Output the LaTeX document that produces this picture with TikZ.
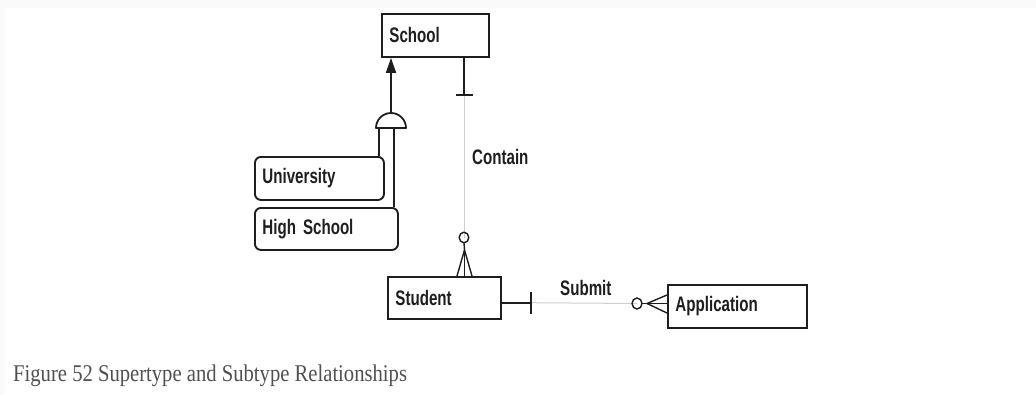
\documentclass[tikz,border=0pt]{standalone}
\usepackage{fontspec}
\usetikzlibrary{arrows.meta}
\newfontfamily\labfont[FakeStretch=0.72]{Liberation Sans}
\newfontfamily\capfont[FakeStretch=0.86]{Liberation Serif}
\definecolor{linec}{HTML}{1E1E1E}
\definecolor{relc}{HTML}{CFCFCF}
\definecolor{capc}{HTML}{505050}
\definecolor{edgec}{HTML}{FAFAFA}
\tikzset{
  entity/.style={draw=linec, line width=1.9pt, anchor=north west, inner xsep=7.5pt, inner ysep=0pt,
    align=left, font=\labfont\bfseries\fontsize{21}{23}\selectfont, text=linec},
  subent/.style={entity, rounded corners=6pt},
  lbl/.style={anchor=base west, inner sep=0pt, font=\labfont\bfseries\fontsize{21}{23}\selectfont, text=linec},
  dark/.style={draw=linec, line width=1.8pt},
  rel/.style={draw=relc, line width=1pt},
  isa/.style={dark, -{Triangle[width=10pt,length=15pt]}}
}
\begin{document}
\begin{tikzpicture}[x=1pt,y=-1pt]
\useasboundingbox (0,0) rectangle (1036,394);
\fill[edgec] (0,0) rectangle (1036,8);
\fill[edgec] (0,0) rectangle (5,394);
% entities
\node[entity, text width=92pt, minimum height=43pt] (school) at (381,13) {School};
\node[subent, text width=114pt, minimum height=43pt] (univ) at (254,156) {University};
\node[subent, text width=128pt, minimum height=42pt] (hs) at (254,207) {High School};
\node[entity, text width=98pt, minimum height=42pt] (student) at (387,276) {Student};
\node[entity, text width=124pt, minimum height=43pt] (app) at (667,284) {Application};
% subtype symbol
\coordinate (disj) at (391,128);
\coordinate (disjtop) at (391,113);
\coordinate (dL) at (379,128);
\coordinate (dR) at (394,128);
\draw[dark, line join=round] ([xshift=-15pt]disj) arc[start angle=180, end angle=0, radius=15pt] -- cycle;
\draw[isa] (disjtop) -- (disjtop |- school.south);
\draw[dark] (dL) -- (dL |- univ.north);
\draw[dark] (dR) -- (dR |- hs.north);
% Contain relationship
\coordinate (cTop) at (464,56);
\coordinate (cBar) at (464,95);
\coordinate (cCirc) at (464,237.5);
\coordinate (cApex) at (464.5,250);
\draw[rel] (cBar) -- (cCirc);
\draw[dark] (cTop |- school.south) -- (cBar);
\draw[dark] ([xshift=-8.5pt]cBar) -- ([xshift=8.5pt]cBar);
\draw[dark, line width=1.4pt] (cCirc) ellipse[x radius=4.8pt, y radius=5.3pt];
\draw[dark, line width=1.4pt] ([yshift=-5.3pt]cCirc) -- (cApex);
\draw[dark, line width=1.4pt] (cApex) -- (457,276 |- student.north);
\draw[dark, line width=1.4pt] (cApex) -- (464.5,276 |- student.north);
\draw[dark, line width=1.4pt] (cApex) -- (472,276 |- student.north);
\node[lbl] (contain) at (472,164) {Contain};
% Submit relationship
\coordinate (sY) at (500,302.7);
\coordinate (sBar) at (531,302.7);
\coordinate (sCirc) at (637,303.5);
\coordinate (sApex) at (647,303.5);
\draw[rel] (sBar) -- (sCirc);
\draw[dark] (sY -| student.east) -- (sBar);
\draw[dark] ([yshift=-11pt]sBar) -- ([yshift=11pt]sBar);
\draw[dark, line width=1.4pt] (sCirc) ellipse[x radius=5pt, y radius=5.5pt];
\draw[dark, line width=1.4pt] ([xshift=5pt]sCirc) -- (sApex);
\draw[dark, line width=1.4pt] (sApex) -- (app.west |- 0,295);
\draw[dark, line width=1.4pt] (sApex) -- (app.west |- 0,303.5);
\draw[dark, line width=1.4pt] (sApex) -- (app.west |- 0,313);
\node[lbl] (submit) at (560,295) {Submit};
% caption
\node[anchor=base west, inner sep=0pt, font=\capfont\fontsize{24}{28}\selectfont, text=capc] (caption) at (13,381.7) {Figure 52 Supertype and Subtype Relationships};
\end{tikzpicture}
\end{document}
